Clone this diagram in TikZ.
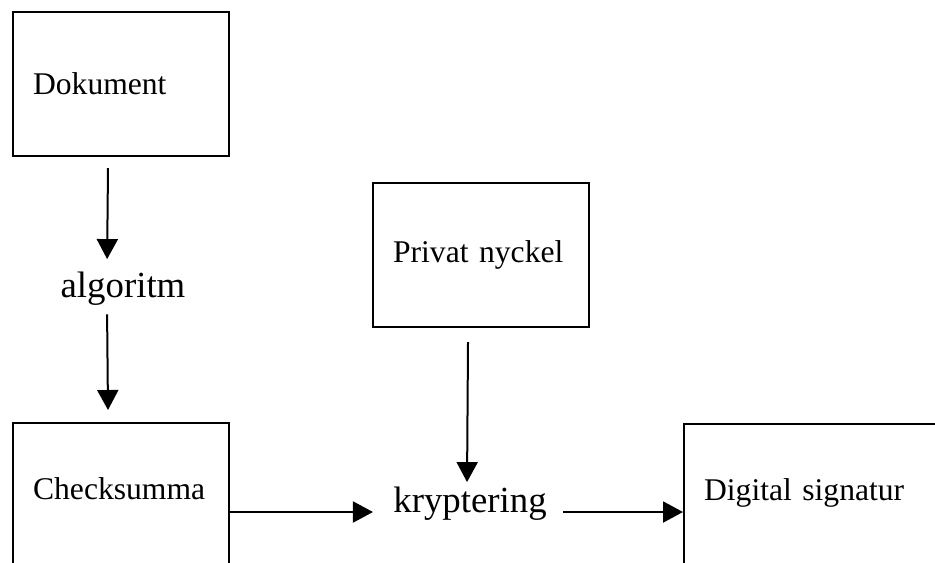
\documentclass[tikz,border=0pt]{standalone}
\usepackage{fontspec}
\setmainfont{Liberation Serif}
\usetikzlibrary{arrows.meta}
\tikzset{
    boks/.style={draw, line width=1.1pt, anchor=north west, minimum width=108pt,
        minimum height=72pt, inner xsep=10pt, text width=88pt, align=left,
        font=\fontsize{15.8}{19}\selectfont},
    etikett/.style={inner sep=0pt, anchor=base, font=\fontsize{18.4}{22}\selectfont},
    pil/.style={line width=1pt, -{Triangle[length=10pt,width=10.5pt]}},
}
\begin{document}
\begin{tikzpicture}[x=0.5pt,y=-0.5pt]
\clip (0,0) rectangle (935,562);

\node[boks] (dok) at (12,11) {Dokument};
\node[etikett] (alg) at (123,297) {algoritm};
\node[boks, text depth=7pt] (chk) at (12,422) {Checksumma};
\node[boks] (priv) at (372,182) {Privat nyckel};
\node[etikett] (kry) at (470,512) {kryptering};
\node[boks, minimum width=140pt, text width=120pt, text depth=7pt] (dig) at (683,423) {Digital signatur};

\draw[pil, shorten <=5.5pt, shorten >=6pt] ([xshift=-6.5pt]dok.south) -- ([xshift=-8pt]alg.north);
\draw[pil, shorten <=4.5pt, shorten >=6pt] ([xshift=-8pt]alg.south) -- ([xshift=-6.5pt]chk.north);
\draw[pil, shorten <=7pt, shorten >=2pt] ([xshift=-6.5pt]priv.south) -- ([xshift=-1.5pt]kry.north);
\draw[pil, shorten >=10pt] (chk.east |- kry.base) -- (kry.base west);
\draw[pil, shorten <=8pt] (kry.base east) -- (dig.west |- kry.base);
\end{tikzpicture}
\end{document}
